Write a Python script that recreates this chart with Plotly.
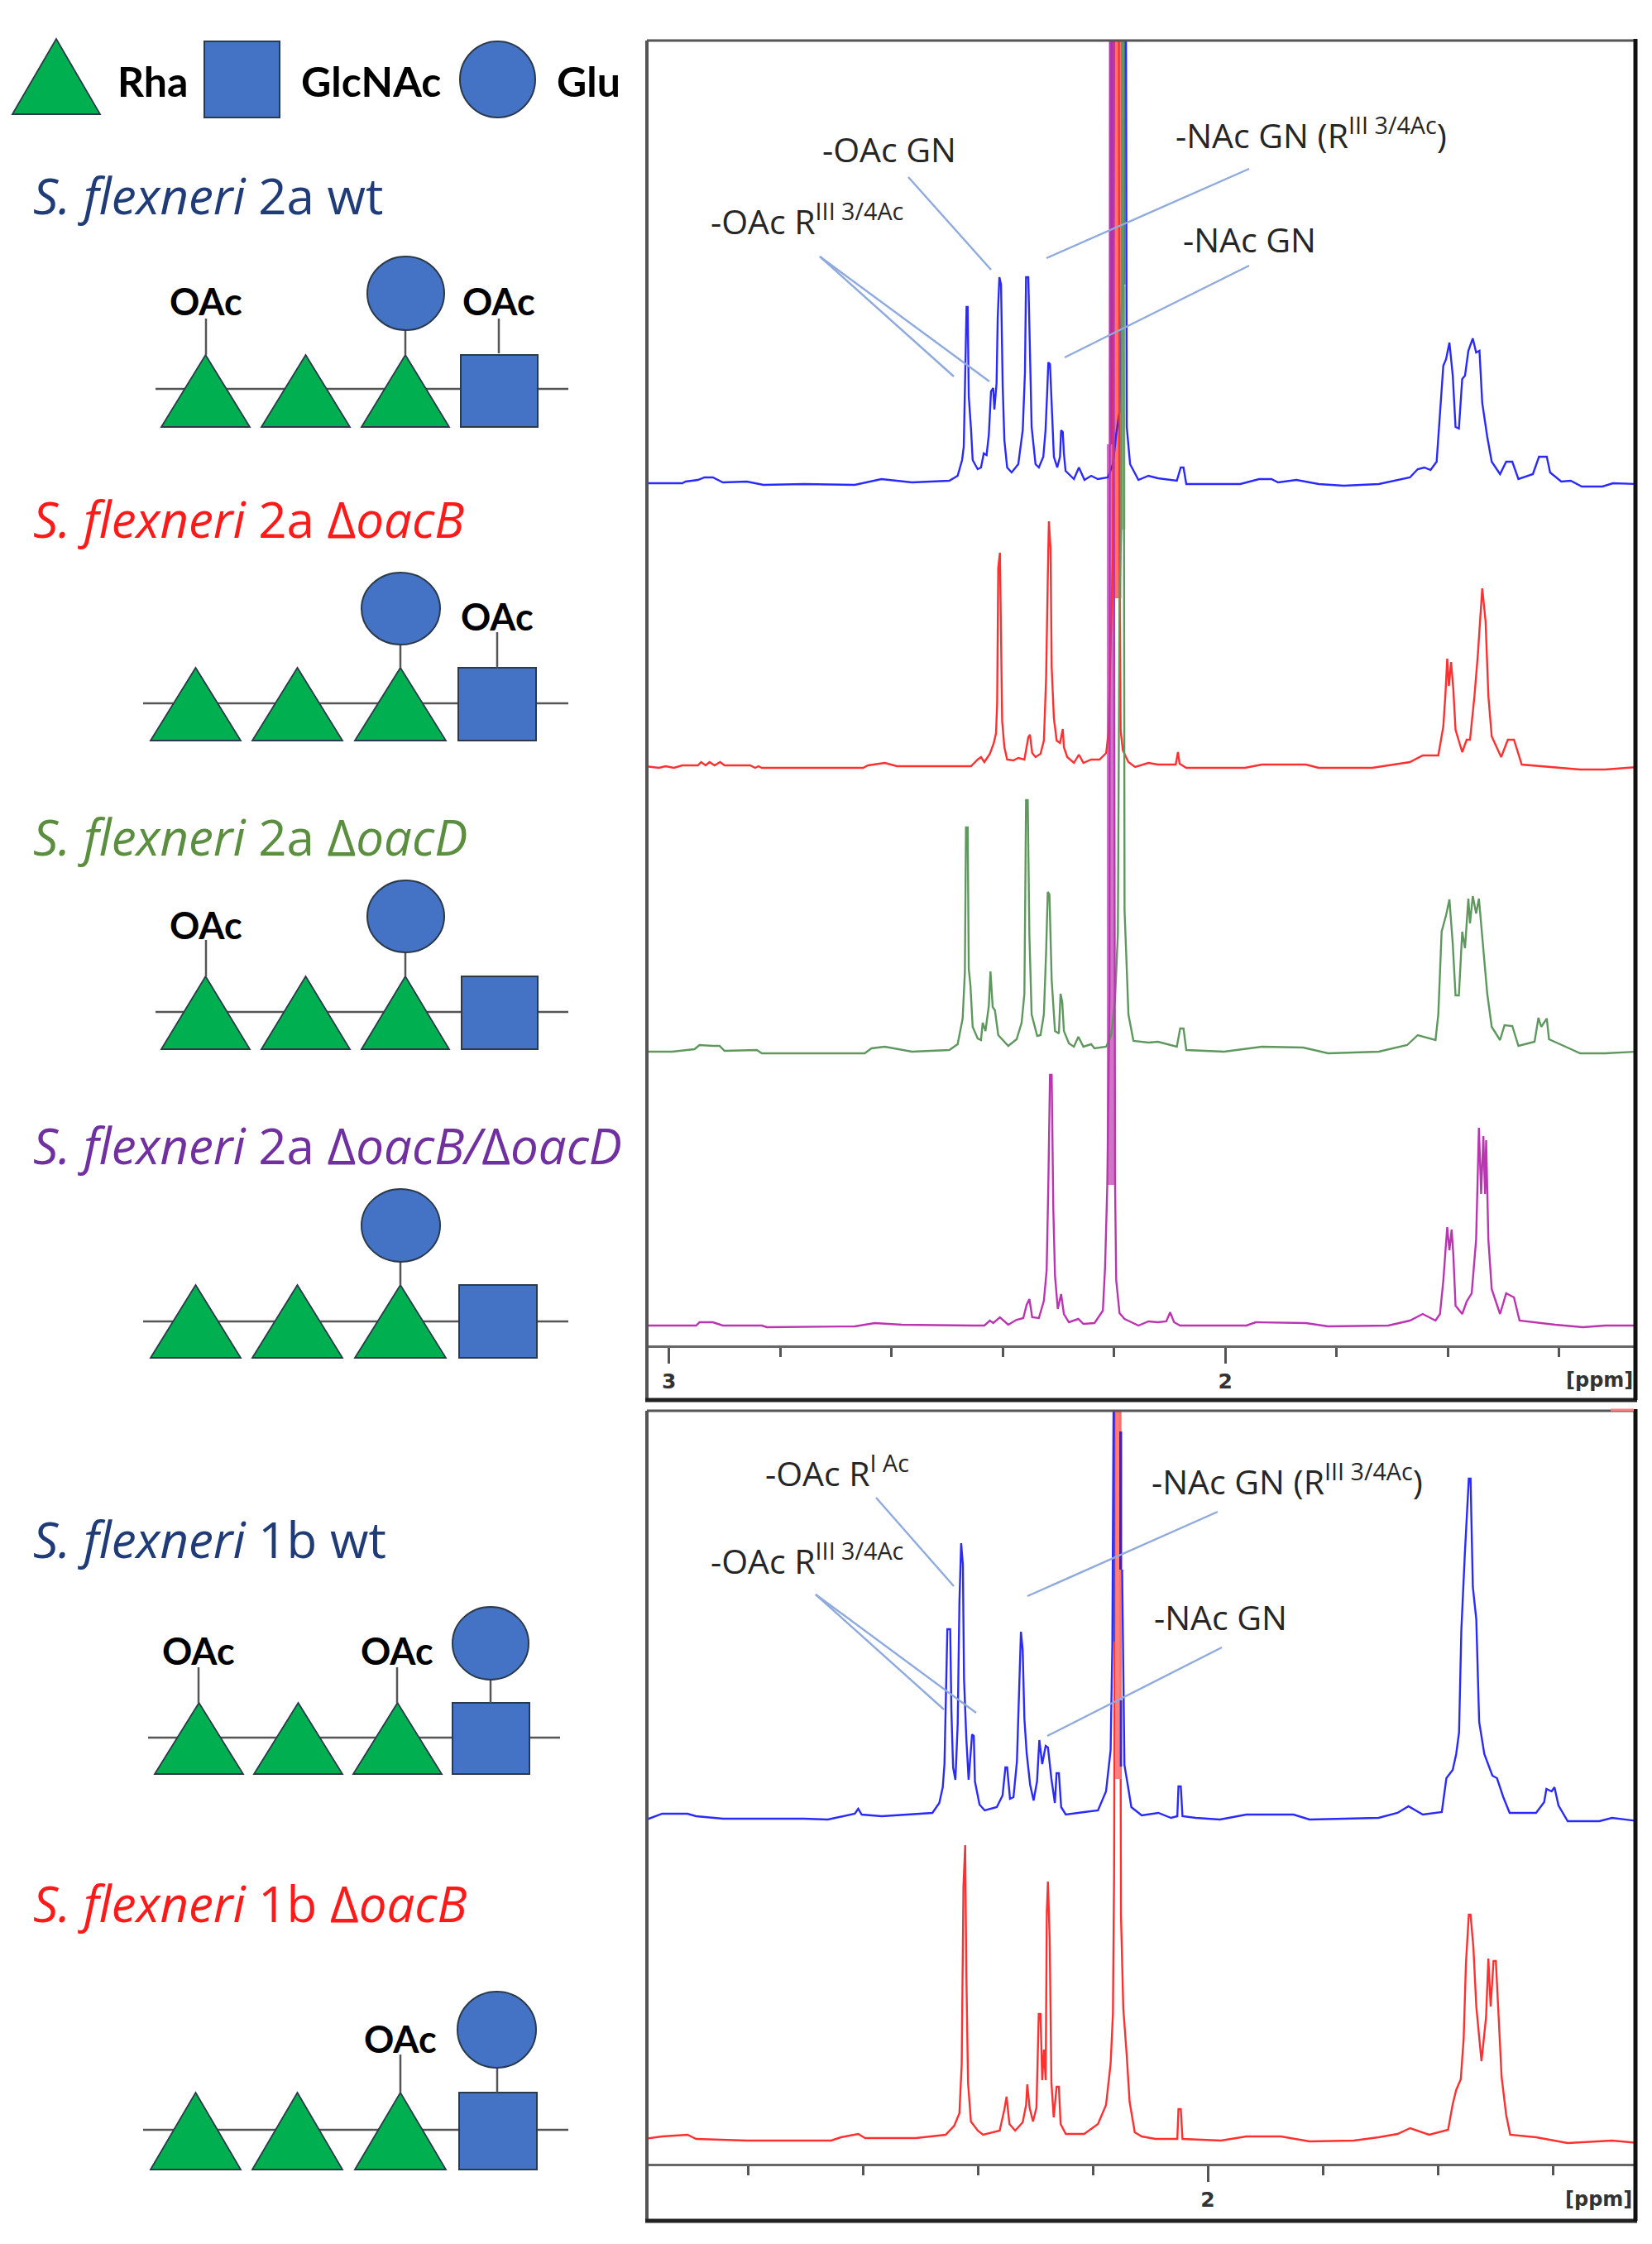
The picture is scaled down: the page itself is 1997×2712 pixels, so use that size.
import plotly.graph_objects as go

W, H = 1997, 2712

# ---------- spectra: (chemical shift in ppm, intensity above own baseline) ----------
wt_2a = [(3.042,1),(2.976,1),(2.970,3),(2.948,5),(2.936,8),(2.921,8),(2.903,2),(2.860,3),(2.830,-1),(2.757,0),(2.666,-1),(2.618,6),(2.563,2),(2.496,4),(2.481,10),(2.473,29),(2.470,45),(2.468,106),(2.465,214),(2.463,214),(2.461,106),(2.457,67),(2.454,29),(2.445,18),(2.439,20),(2.434,37),(2.429,35),(2.425,59),(2.421,112),(2.417,116),(2.415,90),(2.411,122),(2.409,200),(2.406,250),(2.403,241),(2.400,118),(2.397,53),(2.392,20),(2.384,14),(2.372,24),(2.364,65),(2.360,135),(2.358,250),(2.354,250),(2.351,165),(2.348,69),(2.341,24),(2.335,20),(2.327,33),(2.323,65),(2.320,112),(2.318,147),(2.315,145),(2.312,98),(2.308,33),(2.302,20),(2.297,33),(2.295,65),(2.292,63),(2.290,37),(2.287,16),(2.272,6),(2.263,20),(2.253,5),(2.241,10),(2.229,6),(2.211,8),(2.202,24),(2.196,60),(2.190,88),(2.185,241),(2.182,1800),(2.180,1800),(2.178,241),(2.177,69),(2.171,24),(2.156,5),(2.138,10),
(2.121,7),(2.087,4),(2.080,20),(2.075,20),(2.070,0),(1.973,0),(1.939,6),(1.917,6),(1.905,2),(1.872,5),(1.832,0),(1.787,-2),(1.724,0),(1.668,8),(1.654,18),(1.642,20),(1.631,17),(1.620,27),(1.614,82),(1.608,143),(1.603,151),(1.597,171),(1.591,131),(1.586,69),(1.580,67),(1.574,127),(1.569,131),(1.563,161),(1.555,176),(1.549,159),(1.543,161),(1.538,98),(1.529,57),(1.521,27),(1.506,12),(1.495,27),(1.484,27),(1.473,6),(1.447,12),(1.436,33),(1.422,33),(1.416,14),(1.396,3),(1.379,4),(1.359,-3),(1.322,-3),(1.303,1),(1.260,0)]

oacB_2a = [(3.042,1),(3.018,-1),(3.006,1),(2.991,-1),(2.976,2),(2.948,2),(2.942,6),(2.934,2),(2.927,6),(2.918,2),(2.908,6),(2.900,2),(2.854,2),(2.845,-1),(2.839,1),(2.833,-1),(2.651,-1),(2.642,2),(2.612,5),(2.590,1),(2.484,1),(2.457,1),(2.445,9),(2.439,12),(2.433,6),(2.423,16),(2.416,29),(2.412,41),(2.410,77),(2.408,241),(2.405,259),(2.403,121),(2.401,56),(2.397,24),(2.392,9),(2.381,8),(2.372,11),(2.361,9),(2.358,21),(2.354,36),(2.351,39),(2.347,17),(2.341,12),(2.332,16),(2.326,32),(2.322,107),(2.319,227),(2.317,297),(2.314,264),(2.312,121),(2.308,59),(2.303,32),(2.297,29),(2.292,46),(2.290,24),(2.284,12),(2.272,5),(2.263,15),(2.255,5),(2.241,9),(2.226,9),(2.214,17),(2.210,41),(2.202,254),(2.196,1800),(2.193,1800),(2.190,250),(2.188,44),(2.184,20),(2.174,6),(2.162,0),(2.138,5),
(2.121,3),(2.089,3),(2.085,18),(2.082,4),(2.070,-1),(1.965,-1),(1.934,3),(1.855,3),(1.832,-1),(1.736,-1),(1.668,6),(1.645,14),(1.617,14),(1.608,49),(1.604,90),(1.601,131),(1.598,98),(1.594,127),(1.590,94),(1.586,45),(1.574,18),(1.566,33),(1.560,33),(1.552,86),(1.546,135),(1.538,216),(1.532,176),(1.527,86),(1.521,37),(1.504,12),(1.492,33),(1.481,33),(1.467,3),(1.407,0),(1.362,-3),(1.317,-3),(1.260,0)]

oacD_2a = [(3.042,0),(2.994,0),(2.954,3),(2.945,8),(2.921,7),(2.909,7),(2.900,1),(2.842,2),(2.833,-2),(2.648,-2),(2.636,4),(2.612,6),(2.563,0),(2.496,2),(2.481,9),(2.472,40),(2.468,96),(2.466,271),(2.463,271),(2.461,100),(2.458,80),(2.454,30),(2.445,16),(2.439,14),(2.436,35),(2.431,25),(2.425,55),(2.422,97),(2.418,54),(2.414,50),(2.408,20),(2.390,7),(2.375,15),(2.366,35),(2.361,70),(2.358,304),(2.355,304),(2.352,140),(2.348,45),(2.338,19),(2.332,20),(2.326,45),(2.322,120),(2.319,193),(2.316,190),(2.312,87),(2.306,25),(2.299,22),(2.296,70),(2.293,60),(2.290,25),(2.281,10),(2.272,6),(2.264,18),(2.255,6),(2.241,9),(2.235,4),(2.214,6),(2.205,20),(2.200,50),(2.198,64),(2.193,143),(2.190,544),(2.187,631),(2.185,1800),(2.184,1800),(2.182,631),(2.181,171),(2.177,100),(2.174,45),(2.165,13),(2.138,11),
(2.121,12),(2.087,6),(2.081,28),(2.075,28),(2.070,2),(2.002,0),(1.934,6),(1.860,5),(1.815,-2),(1.724,0),(1.673,8),(1.654,20),(1.622,14),(1.617,45),(1.611,145),(1.603,165),(1.597,184),(1.591,130),(1.586,68),(1.580,68),(1.574,145),(1.569,125),(1.563,185),(1.560,155),(1.555,188),(1.549,167),(1.544,185),(1.538,140),(1.529,70),(1.521,30),(1.506,14),(1.498,32),(1.484,31),(1.473,7),(1.444,12),(1.437,41),(1.432,30),(1.422,40),(1.418,15),(1.385,5),(1.362,-2),(1.317,-2),(1.260,0)]

oacBD_2a = [(3.042,0),(2.951,0),(2.945,4),(2.921,4),(2.903,0),(2.833,0),(2.824,-2),(2.666,-1),(2.630,3),(2.581,1),(2.454,0),(2.433,0),(2.423,6),(2.417,3),(2.405,10),(2.390,1),(2.375,7),(2.363,9),(2.357,25),(2.352,32),(2.347,10),(2.335,9),(2.326,30),(2.321,67),(2.318,170),(2.315,303),(2.312,303),(2.309,140),(2.306,60),(2.301,20),(2.295,38),(2.290,14),(2.281,4),(2.264,8),(2.255,2),(2.235,3),(2.220,18),(2.216,70),(2.212,170),(2.208,400),(2.207,1800),(2.202,1800),(2.198,170),(2.196,55),(2.190,15),(2.181,8),(2.156,0),(2.138,5),
(2.121,4),(2.106,5),(2.099,16),(2.092,4),(2.081,0),(1.962,0),(1.945,4),(1.855,3),(1.815,-1),(1.707,0),(1.668,6),(1.645,14),(1.622,6),(1.614,14),(1.608,54),(1.604,89),(1.601,119),(1.597,91),(1.593,116),(1.590,86),(1.586,24),(1.574,14),(1.566,29),(1.557,39),(1.549,104),(1.544,239),(1.540,159),(1.536,229),(1.533,159),(1.531,224),(1.527,104),(1.521,44),(1.506,14),(1.495,39),(1.481,34),(1.471,6),(1.407,1),(1.357,-2),(1.317,0),(1.260,0)]

wt_1b = [(2.980,-2),(2.949,6),(2.905,6),(2.890,3),(2.843,0),(2.702,0),(2.661,-1),(2.614,6),(2.608,12),(2.602,5),(2.567,3),(2.479,7),(2.467,19),(2.461,38),(2.458,66),(2.456,135),(2.453,229),(2.448,229),(2.446,131),(2.443,62),(2.439,47),(2.435,114),(2.432,262),(2.429,333),(2.426,307),(2.424,169),(2.420,97),(2.416,47),(2.413,72),(2.410,102),(2.407,100),(2.405,45),(2.397,17),(2.388,10),(2.367,14),(2.357,28),(2.352,62),(2.349,62),(2.344,24),(2.338,26),(2.332,69),(2.328,152),(2.325,226),(2.322,204),(2.319,121),(2.315,79),(2.309,41),(2.303,22),(2.297,45),(2.293,95),(2.288,66),(2.282,88),(2.278,86),(2.272,48),(2.266,19),(2.263,55),(2.259,55),(2.255,14),(2.247,5),(2.215,8),(2.191,10),(2.177,33),(2.169,83),(2.166,210),(2.163,900),(2.161,900),(2.155,None),(2.149,301),(2.147,145),(2.145,65),(2.139,40),(2.133,14),(2.115,4),
(2.086,7),(2.064,1),(2.053,3),(2.051,39),(2.047,39),(2.044,3),(2.021,1),(1.979,-1),(1.933,5),(1.851,5),(1.823,-1),(1.703,1),(1.670,7),(1.651,15),(1.626,5),(1.593,8),(1.585,49),(1.574,59),(1.568,78),(1.563,104),(1.559,228),(1.553,319),(1.550,365),(1.546,411),(1.543,411),(1.539,280),(1.533,241),(1.528,117),(1.519,78),(1.505,52),(1.497,49),(1.486,26),(1.475,7),(1.429,7),(1.415,20),(1.411,36),(1.402,33),(1.397,38),(1.390,16),(1.374,-3),(1.319,-3),(1.297,1),(1.250,-3)]

oacB_1b = [(2.980,2),(2.949,5),(2.905,7),(2.890,2),(2.802,0),(2.655,0),(2.638,4),(2.608,8),(2.596,3),(2.508,3),(2.456,7),(2.441,18),(2.432,33),(2.428,93),(2.425,307),(2.422,357),(2.420,203),(2.417,70),(2.412,23),(2.400,12),(2.391,7),(2.362,12),(2.354,37),(2.350,53),(2.345,20),(2.335,12),(2.322,22),(2.316,43),(2.314,68),(2.310,40),(2.304,23),(2.298,40),(2.294,153),(2.291,153),(2.288,73),(2.285,110),(2.282,73),(2.280,277),(2.278,313),(2.275,243),(2.272,70),(2.268,28),(2.263,65),(2.259,65),(2.256,20),(2.247,8),(2.215,8),(2.191,20),(2.177,43),(2.169,93),(2.165,153),(2.163,320),(2.161,900),(2.153,900),(2.151,273),(2.147,160),(2.141,103),(2.136,47),(2.127,10),(2.115,5),(2.091,2),
(2.086,2),(2.053,2),(2.051,38),(2.047,38),(2.044,2),(1.977,0),(1.933,5),(1.873,5),(1.823,-1),(1.746,0),(1.703,4),(1.670,8),(1.648,15),(1.615,7),(1.582,13),(1.574,44),(1.568,61),(1.560,74),(1.555,123),(1.551,214),(1.546,273),(1.543,273),(1.538,233),(1.533,162),(1.524,96),(1.516,149),(1.512,220),(1.508,162),(1.503,217),(1.499,217),(1.495,162),(1.489,77),(1.481,31),(1.474,7),(1.429,4),(1.374,-3),(1.297,0),(1.250,-3)]

# vertical offsets of each stacked spectrum on its panel's intensity axis
offsets_top = {"wt_2a": 1041, "oacB_2a": 699, "oacD_2a": 355, "oacBD_2a": 24}
offsets_bottom = {"wt_1b": 417, "oacB_1b": 28}

# solvent-peak saturated columns: (ppm left, ppm right, intensity low, intensity high, colour)
bands_top = [
    (2.2128, 2.1988, 24 + 170, 24 + 1065, "rgba(205,110,195,0.95)"),
    (2.2080, 2.2015, 24 + 1065, 1576, "rgb(172,52,160)"),
    (2.2015, 2.1867, 699 + 204, 1576, "rgba(255,100,100,0.92)"),
    (2.1867, 2.1795, 355 + 631, 355 + 925, "rgba(150,200,150,0.92)"),
    (2.1867, 2.1840, 355 + 925, 1576, "rgb(60,120,70)"),
    (2.1840, 2.1795, 1041 + 241, 1576, "rgb(45,95,215)"),
]
bands_bottom = [
    (2.1640, 2.1610, 417 + 214, 910, "rgb(70,80,225)"),
    (2.1610, 2.1500, 28 + 437, 910, "rgba(255,115,115,0.92)"),
    (2.1540, 2.1490, 417 + 301, 417 + 468, "rgb(60,30,195)"),
    (2.1530, 2.1490, 417 + 63, 417 + 143, "rgb(60,40,195)"),
]

ticks_major_top = [3, 2]
ticks_major_bottom = [2]
ticks_minor = [2.8, 2.6, 2.4, 2.2, 1.8, 1.6, 1.4]
tick_labels_top = ["3", "2"]
tick_labels_bottom = ["2"]

BLUE, RED, GREEN, MAG = "#2a2aff", "#ff3030", "#5f985f", "#bb35b2"


def X(px):
    return px / W


def Y(py):
    return 1 - py / H


fig = go.Figure()


def add_spectrum(pts, off, color, xa, ya, name):
    xs = [p[0] for p in pts]
    ys = [None if p[1] is None else p[1] + off for p in pts]
    fig.add_trace(go.Scatter(x=xs, y=ys, mode="lines", name=name, xaxis=xa, yaxis=ya,
                             line=dict(color=color, width=2.4, shape="linear"),
                             connectgaps=False, hoverinfo="skip", showlegend=False))


def add_band(b, xa, ya):
    l, r, lo, hi, c = b
    fig.add_trace(go.Scatter(x=[l, r, r, l, l], y=[lo, lo, hi, hi, lo], mode="lines",
                             fill="toself", fillcolor=c, line=dict(width=0), xaxis=xa, yaxis=ya,
                             hoverinfo="skip", showlegend=False))


for b in bands_top:
    add_band(b, "x", "y")
add_spectrum(wt_2a, offsets_top["wt_2a"], BLUE, "x", "y", "S. flexneri 2a wt")
add_spectrum(oacB_2a, offsets_top["oacB_2a"], RED, "x", "y", "S. flexneri 2a oacB")
add_spectrum(oacD_2a, offsets_top["oacD_2a"], GREEN, "x", "y", "S. flexneri 2a oacD")
add_spectrum(oacBD_2a, offsets_top["oacBD_2a"], MAG, "x", "y", "S. flexneri 2a oacB/oacD")

add_spectrum(oacB_1b, offsets_bottom["oacB_1b"], RED, "x2", "y2", "S. flexneri 1b oacB")
for b in bands_bottom:
    add_band(b, "x2", "y2")
add_spectrum(wt_1b, offsets_bottom["wt_1b"], BLUE, "x2", "y2", "S. flexneri 1b wt")

TICK = "#555555"
TICKFONT = dict(family="DejaVu Sans", size=25, color="#333333", weight="bold")


def xax(rng, dom, major, labels):
    return dict(domain=dom, range=rng, showline=True, linecolor="#666666", linewidth=3,
                showgrid=False, zeroline=False, ticks="outside", ticklen=19, tickwidth=3,
                tickcolor=TICK, tickmode="array", tickvals=major, ticktext=labels,
                tickfont=TICKFONT,
                minor=dict(tickmode="array", tickvals=ticks_minor, ticks="outside", ticklen=11,
                           tickwidth=3, tickcolor=TICK, showgrid=False))


shapes = []
annotations = []


def seg(x0, y0, x1, y1, color, width, layer="above"):
    shapes.append(dict(type="line", xref="paper", yref="paper", x0=X(x0), y0=Y(y0), x1=X(x1), y1=Y(y1),
                       line=dict(color=color, width=width), layer=layer))


def text(x, y, s, size, color="#000000", family="Lato", anchor="center", weight=None):
    f = dict(family=family, size=size, color=color)
    if weight:
        f["weight"] = weight
    annotations.append(dict(xref="paper", yref="paper", x=X(x), y=Y(y), text=s, showarrow=False,
                            xanchor=anchor, yanchor="middle", font=f, borderpad=0, borderwidth=0))


# ---- panel frames ----
for (t, b) in [(49, 1692), (1705, 2684)]:
    seg(782, t, 1977, t, "#555555", 3)
    seg(782, t, 782, b, "#555555", 4)
    seg(780, b, 1979, b, "#222222", 5)
    seg(1977, t - 2, 1977, b, "#111111", 5)
seg(1947, 1704, 1975, 1704, "#ff8080", 3)

# ---- glyphs ----
GREEN_F, BLUE_F, EDGE, STEM = "#00b050", "#4472c4", "#2b3a4a", "#555555"


def tri(x0, x1, top, base):
    ax = (x0 + x1) / 2
    shapes.append(dict(type="path", xref="paper", yref="paper",
                       path=f"M {X(x0)} {Y(base)} L {X(ax)} {Y(top)} L {X(x1)} {Y(base)} Z",
                       fillcolor=GREEN_F, line=dict(color=EDGE, width=1.8), layer="above"))


def sq(x0, x1, top, base):
    shapes.append(dict(type="rect", xref="paper", yref="paper", x0=X(x0), x1=X(x1), y0=Y(base), y1=Y(top),
                       fillcolor=BLUE_F, line=dict(color=EDGE, width=2), layer="above"))


def circ(x0, x1, top, base):
    shapes.append(dict(type="circle", xref="paper", yref="paper", x0=X(x0), x1=X(x1), y0=Y(base), y1=Y(top),
                       fillcolor=BLUE_F, line=dict(color=EDGE, width=2), layer="above"))


def oac(x, stem_top, stem_bot, ty):
    seg(x, stem_top, x, stem_bot, STEM, 2.5)
    text(x, ty, "OAc", 45, weight="bold")


# legend
tri(15, 121, 47, 138)
sq(247, 338, 50, 142)
circ(556, 647, 50, 142)
text(142, 98, "Rha", 50, anchor="left", weight="bold")
text(364, 98, "GlcNAc", 50, anchor="left", weight="bold")
text(673, 98, "Glu", 50, anchor="left", weight="bold")

XS_A = [(195, 302), (316, 423), (437, 543)]
XS_B = [(182, 291), (305, 414), (429, 539)]


def row(line_y, lx0, lx1, tris, top, base, sqx):
    seg(lx0, line_y, lx1, line_y, STEM, 2.5)
    for a, b in tris:
        tri(a, b, top, base)
    sq(sqx[0], sqx[1], top, base)


# 2a wt
row(470, 188, 687, XS_A, 429, 516, (557, 650))
seg(490, 399, 490, 429, STEM, 2.5)
circ(444, 537, 310, 399)
oac(249, 385, 429, 364)
oac(603, 385, 427, 364)
# 2a oacB
row(850, 173, 687, XS_B, 807, 895, (554, 648))
seg(484, 779, 484, 807, STEM, 2.5)
circ(437, 532, 692, 779)
oac(601, 764, 807, 745)
# 2a oacD
row(1223, 188, 687, XS_A, 1180, 1268, (558, 650))
seg(490, 1151, 490, 1180, STEM, 2.5)
circ(444, 537, 1064, 1151)
oac(249, 1136, 1180, 1118)
# 2a oacB/oacD
row(1597, 173, 687, XS_B, 1553, 1641, (555, 649))
seg(484, 1525, 484, 1553, STEM, 2.5)
circ(437, 532, 1437, 1525)
# 1b wt
row(2100, 179, 677, [(187, 294), (307, 414), (427, 534)], 2058, 2144, (547, 640))
seg(593, 2030, 593, 2058, STEM, 2.5)
circ(547, 639, 1942, 2030)
oac(240, 2015, 2058, 1995)
oac(480, 2015, 2058, 1995)
# 1b oacB
row(2574, 173, 687, XS_B, 2529, 2622, (555, 649))
seg(601, 2499, 601, 2529, STEM, 2.5)
circ(553, 648, 2407, 2499)
oac(484, 2483, 2529, 2464)

# ---- species titles ----
NAVY, TRED, TGREEN, TPURP = "#1f3b78", "#ff1a1a", "#5b8f3f", "#7030a0"
TS = 60
TF = "Open Sans"
text(40, 236, "<i>S. flexneri</i> 2a wt", TS, NAVY, TF, "left")
text(40, 627, "<i>S. flexneri</i> 2a Δ<i>oacB</i>", TS, TRED, TF, "left")
text(40, 1011, "<i>S. flexneri</i> 2a Δ<i>oacD</i>", TS, TGREEN, TF, "left")
text(40, 1384, "<i>S. flexneri</i> 2a Δ<i>oacB/</i>Δ<i>oacD</i>", TS, TPURP, TF, "left")
text(40, 1860, "<i>S. flexneri</i> 1b wt", TS, NAVY, TF, "left")
text(40, 2300, "<i>S. flexneri</i> 1b Δ<i>oacB</i>", TS, TRED, TF, "left")

# ---- peak labels ----
LS, LC, LF = 41, "#262626", "Open Sans"
text(994, 180, "-OAc GN", LS, LC, LF, "left")
text(859, 265, "-OAc R<sup>III 3/4Ac</sup>", LS, LC, LF, "left")
text(1421, 161, "-NAc GN (R<sup>III 3/4Ac</sup>)", LS, LC, LF, "left")
text(1430, 289, "-NAc GN", LS, LC, LF, "left")
text(925, 1778, "-OAc R<sup>I Ac</sup>", LS, LC, LF, "left")
text(859, 1884, "-OAc R<sup>III 3/4Ac</sup>", LS, LC, LF, "left")
text(1392, 1788, "-NAc GN (R<sup>III 3/4Ac</sup>)", LS, LC, LF, "left")
text(1395, 1954, "-NAc GN", LS, LC, LF, "left")
PPM = dict(family="DejaVu Sans", size=24, color="#333333", weight="bold")
annotations.append(dict(xref="paper", yref="paper", x=X(1976), y=Y(1668), text="[ppm]", showarrow=False,
                        xanchor="right", yanchor="middle", font=PPM))
annotations.append(dict(xref="paper", yref="paper", x=X(1975), y=Y(2658), text="[ppm]", showarrow=False,
                        xanchor="right", yanchor="middle", font=PPM))

# ---- leader lines ----
LEAD = "#8faadc"
for x0, y0, x1, y1 in [
    (1098, 214, 1198, 326), (991, 310, 1153, 455), (991, 310, 1196, 461), (1265, 312, 1510, 204),
    (1287, 432, 1510, 321),
    (1059, 1810, 1153, 1917), (986, 1927, 1141, 2066), (986, 1927, 1180, 2070),
    (1242, 1929, 1472, 1827), (1266, 2098, 1477, 1991),
]:
    seg(x0, y0, x1, y1, LEAD, 2.4)

fig.update_layout(
    width=W, height=H, autosize=False, margin=dict(l=0, r=0, t=0, b=0),
    paper_bgcolor="white", plot_bgcolor="white", showlegend=False,
    xaxis=xax([3.0366, 1.2641], [784 / W, 1976 / W], ticks_major_top, tick_labels_top),
    yaxis=dict(domain=[1 - 1626 / H, 1 - 50 / H], range=[0, 1576], visible=False, anchor="x"),
    xaxis2=xax([2.9727, 1.2576], [784 / W, 1976 / W], ticks_major_bottom, tick_labels_bottom),
    yaxis2=dict(domain=[1 - 2615 / H, 1 - 1705 / H], range=[0, 910], visible=False, anchor="x2"),
    shapes=shapes, annotations=annotations,
)
fig.layout.xaxis.anchor = "y"
fig.layout.xaxis2.anchor = "y2"

fig.write_html("out.html", config=dict(displayModeBar=False),
               post_script="document.body.style.margin='0';")
